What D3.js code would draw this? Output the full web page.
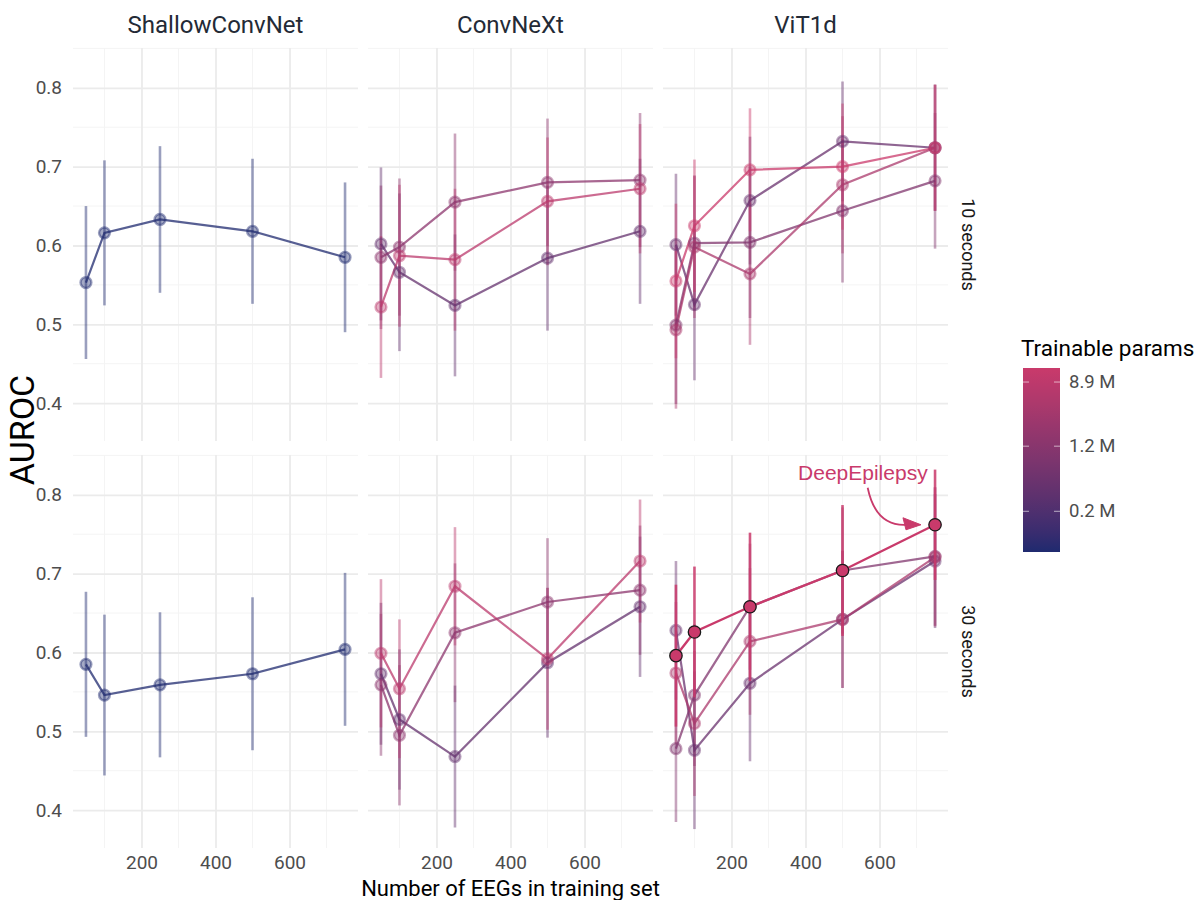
<!DOCTYPE html>
<html>
<head>
<meta charset="utf-8">
<script src="https://cdn.jsdelivr.net/npm/d3@7"></script>
<style>
  body { margin: 0; background: #fff; }
  svg { font-family: Roboto, "Liberation Sans", sans-serif; }
</style>
</head>
<body>
<svg id="chart" width="1202" height="900"></svg>
<script>
// ---- data -------------------------------------------------------------
const trainSizes = [50, 100, 250, 500, 750];
const models = ["ShallowConvNet", "ConvNeXt", "ViT1d"];
const windows = ["10 seconds", "30 seconds"];
const yTicks = [0.4, 0.5, 0.6, 0.7, 0.8];
const yMinor = [0.45, 0.55, 0.65, 0.75, 0.85];
const xTicks = [200, 400, 600];
const xMinor = [100, 300, 500, 700];
const legendBreaks = [1.57e5, 1.2e6, 8.9e6];

// trainable params per model size
const shallowParams = [4.4e4];
const convnextParams = [3.2e5, 1.4e6, 8.0e6];
const vitParams = [3.8e5, 9.0e5, 4.5e6, 1.38e7];

// mean AUROC and sd, one row per model size
const shallow10 = [[0.553, 0.616, 0.633, 0.618, 0.585]];
const shallow10Sd = [[0.097, 0.092, 0.093, 0.092, 0.095]];
const shallow30 = [[0.585, 0.546, 0.559, 0.573, 0.604]];
const shallow30Sd = [[0.092, 0.102, 0.092, 0.097, 0.097]];

const convnext10 = [
  [0.602, 0.566, 0.524, 0.584, 0.618],
  [0.585, 0.598, 0.655, 0.680, 0.683],
  [0.522, 0.587, 0.582, 0.656, 0.672]
];
const convnext10Sd = [
  [0.097, 0.100, 0.090, 0.092, 0.092],
  [0.091, 0.087, 0.087, 0.081, 0.085],
  [0.090, 0.090, 0.090, 0.081, 0.082]
];
const convnext30 = [
  [0.573, 0.515, 0.468, 0.587, 0.658],
  [0.559, 0.495, 0.625, 0.664, 0.679],
  [0.599, 0.554, 0.684, 0.592, 0.716]
];
const convnext30Sd = [
  [0.090, 0.089, 0.090, 0.095, 0.089],
  [0.090, 0.089, 0.088, 0.081, 0.082],
  [0.094, 0.088, 0.075, 0.090, 0.078]
];

const vit10 = [
  [0.601, 0.525, 0.657, 0.732, 0.724],
  [0.499, 0.603, 0.604, 0.644, 0.682],
  [0.493, 0.598, 0.564, 0.677, 0.724],
  [0.555, 0.625, 0.696, 0.700, 0.724]
];
const vit10Sd = [
  [0.090, 0.096, 0.081, 0.076, 0.080],
  [0.100, 0.086, 0.096, 0.091, 0.086],
  [0.100, 0.090, 0.090, 0.087, 0.080],
  [0.098, 0.084, 0.078, 0.080, 0.080]
];
const vit30 = [
  [0.628, 0.476, 0.561, 0.642, 0.716],
  [0.478, 0.546, 0.658, 0.704, 0.722],
  [0.574, 0.510, 0.614, 0.642, 0.721],
  [0.596, 0.626, 0.658, 0.704, 0.762]
];
const vit30Sd = [
  [0.088, 0.100, 0.099, 0.087, 0.085],
  [0.093, 0.090, 0.080, 0.080, 0.088],
  [0.090, 0.092, 0.093, 0.087, 0.088],
  [0.090, 0.083, 0.094, 0.083, 0.070]
];

// highlighted configuration
const highlight = { model: "ViT1d", window: "30 seconds", size: 3, label: "DeepEpilepsy" };
const annotationText = [555, 0.828];
const annotationArrow = [[568, 0.809], [712, 0.762]];

// ---- layout -----------------------------------------------------------
const svg = d3.select("#chart");
const plotLeft = 73, plotTop = 48;
const panelW = 285, panelH = 393, gapX = 10, gapY = 14;
const gridCol = "#ebebeb", minorCol = "#f4f4f4";

const x = d3.scaleLinear().domain([15, 785]).range([0, panelW]);
const y = d3.scaleLinear().domain([0.352, 0.8505]).range([panelH, 0]);
const color = d3.scaleLog()
  .domain([4.4e4, 1.38e7])
  .range(["#1f2a6f", "#c93a6b"])
  .interpolate(d3.interpolateLab);

const paramsByModel = { ShallowConvNet: shallowParams, ConvNeXt: convnextParams, ViT1d: vitParams };
const meansBy = {
  ShallowConvNet: [shallow10, shallow30],
  ConvNeXt: [convnext10, convnext30],
  ViT1d: [vit10, vit30]
};
const sdsBy = {
  ShallowConvNet: [shallow10Sd, shallow30Sd],
  ConvNeXt: [convnext10Sd, convnext30Sd],
  ViT1d: [vit10Sd, vit30Sd]
};

const line = d3.line().x(d => x(d.n)).y(d => y(d.m));

windows.forEach((win, r) => {
  models.forEach((model, c) => {
    const g = svg.append("g")
      .attr("transform", `translate(${plotLeft + c * (panelW + gapX)},${plotTop + r * (panelH + gapY)})`);

    // minor grid
    g.selectAll(".ymin").data(yMinor.filter(v => v <= y.domain()[1])).enter().append("line")
      .attr("x1", 0).attr("x2", panelW)
      .attr("y1", d => y(d)).attr("y2", d => y(d))
      .attr("stroke", minorCol).attr("stroke-width", 1);
    g.selectAll(".xmin").data(xMinor).enter().append("line")
      .attr("y1", 0).attr("y2", panelH)
      .attr("x1", d => x(d)).attr("x2", d => x(d))
      .attr("stroke", minorCol).attr("stroke-width", 1);

    // major grid via axes
    const ya = g.append("g").call(d3.axisLeft(y).tickValues(yTicks).tickSize(-panelW)
      .tickFormat(c === 0 ? d3.format(".1f") : ""));
    ya.select(".domain").remove();
    ya.selectAll("line").attr("stroke", gridCol).attr("stroke-width", 1.8);
    ya.selectAll("text").attr("x", -11).attr("fill", "#4d4d4d")
      .attr("font-size", 19).attr("font-family", "Roboto");

    const xa = g.append("g").attr("transform", `translate(0,${panelH})`)
      .call(d3.axisBottom(x).tickValues(xTicks).tickSize(-panelH)
        .tickFormat(r === windows.length - 1 ? d3.format("d") : ""));
    xa.select(".domain").remove();
    xa.selectAll("line").attr("stroke", gridCol).attr("stroke-width", 1.8);
    xa.selectAll("text").attr("y", 8).attr("dy", "0.71em").attr("fill", "#4d4d4d")
      .attr("font-size", 19).attr("font-family", "Roboto");

    // series
    const params = paramsByModel[model];
    const series = params.map((p, i) => ({
      params: p,
      idx: i,
      hl: highlight.model === model && highlight.window === win && highlight.size === i,
      pts: trainSizes.map((n, k) => ({ n, m: meansBy[model][r][i][k], s: sdsBy[model][r][i][k] }))
    }));
    const normal = series.filter(s => !s.hl);
    const hl = series.filter(s => s.hl);

    normal.forEach(s => {
      g.append("g").selectAll("line").data(s.pts).enter().append("line")
        .attr("x1", d => x(d.n)).attr("x2", d => x(d.n))
        .attr("y1", d => y(d.m - d.s)).attr("y2", d => y(d.m + d.s))
        .attr("stroke", color(s.params)).attr("stroke-opacity", 0.45).attr("stroke-width", 2.6);
    });
    normal.forEach(s => {
      g.append("path").datum(s.pts).attr("d", line)
        .attr("fill", "none").attr("stroke", color(s.params))
        .attr("stroke-opacity", 0.75).attr("stroke-width", 2.2);
    });
    normal.forEach(s => {
      g.append("g").selectAll("circle").data(s.pts).enter().append("circle")
        .attr("cx", d => x(d.n)).attr("cy", d => y(d.m)).attr("r", 5.4)
        .attr("fill", color(s.params)).attr("fill-opacity", 0.4)
        .attr("stroke", color(s.params)).attr("stroke-opacity", 0.45).attr("stroke-width", 2.4);
    });

    hl.forEach(s => {
      g.append("g").selectAll("line").data(s.pts).enter().append("line")
        .attr("x1", d => x(d.n)).attr("x2", d => x(d.n))
        .attr("y1", d => y(d.m - d.s)).attr("y2", d => y(d.m + d.s))
        .attr("stroke", color(s.params)).attr("stroke-opacity", 0.85).attr("stroke-width", 2.6);
      g.append("path").datum(s.pts).attr("d", line)
        .attr("fill", "none").attr("stroke", color(s.params)).attr("stroke-width", 2.4);
      g.append("g").selectAll("circle").data(s.pts).enter().append("circle")
        .attr("cx", d => x(d.n)).attr("cy", d => y(d.m)).attr("r", 6.2)
        .attr("fill", color(s.params))
        .attr("stroke", "#1a1a1a").attr("stroke-width", 1.3);

      // annotation
      const ac = color(s.params);
      g.append("text")
        .attr("x", x(annotationText[0])).attr("y", y(annotationText[1]))
        .attr("text-anchor", "middle").attr("dominant-baseline", "central")
        .attr("font-family", "Liberation Sans, Arial, sans-serif").attr("font-size", 21)
        .attr("fill", ac).text(highlight.label);
      const [a0, a1] = annotationArrow;
      const sx = x(a0[0]), sy = y(a0[1]), ex = x(a1[0]), ey = y(a1[1]);
      const hx = ex - 14;
      g.append("path")
        .attr("d", `M${sx},${sy} Q${sx + 8},${ey + 2} ${hx},${ey}`)
        .attr("fill", "none").attr("stroke", ac).attr("stroke-width", 1.8);
      g.append("path")
        .attr("d", `M${ex},${ey} L${hx - 4},${ey - 7} L${hx - 1},${ey + 5} Z`)
        .attr("fill", ac).attr("stroke", ac).attr("stroke-width", 1);
    });

    // column strip
    if (r === 0) {
      svg.append("text")
        .attr("x", plotLeft + c * (panelW + gapX) + panelW / 2).attr("y", plotTop - 15)
        .attr("text-anchor", "middle").attr("font-size", 24).attr("fill", "#232a36")
        .text(model);
    }
  });

  // row strip
  const cy = plotTop + r * (panelH + gapY) + panelH / 2;
  const sx = plotLeft + 3 * panelW + 2 * gapX + 20;
  svg.append("text")
    .attr("transform", `translate(${sx},${cy}) rotate(90)`)
    .attr("text-anchor", "middle").attr("dominant-baseline", "central")
    .attr("font-size", 18).attr("fill", "#1a1a1a")
    .text(win);
});

// axis titles
const plotRight = plotLeft + 3 * panelW + 2 * gapX;
svg.append("text")
  .attr("x", (plotLeft + plotRight) / 2).attr("y", 896)
  .attr("text-anchor", "middle").attr("font-size", 22).attr("fill", "#000")
  .text("Number of EEGs in training set");
svg.append("text")
  .attr("transform", `translate(34,430) rotate(-90)`)
  .attr("text-anchor", "middle").attr("font-size", 34).attr("fill", "#000")
  .text("AUROC");

// ---- legend -----------------------------------------------------------
const barX = 1023, barW = 37, barTop = 368, barBottom = 552;
const ly = d3.scaleLog().domain(color.domain()).range([barBottom, barTop]);
const grad = svg.append("defs").append("linearGradient")
  .attr("id", "pgrad").attr("x1", 0).attr("y1", 1).attr("x2", 0).attr("y2", 0);
d3.range(0, 1.0001, 0.1).forEach(t => {
  const v = Math.exp(Math.log(color.domain()[0]) + t * (Math.log(color.domain()[1]) - Math.log(color.domain()[0])));
  grad.append("stop").attr("offset", t).attr("stop-color", color(v));
});
svg.append("text").attr("x", 1021).attr("y", 356)
  .attr("font-size", 22.5).attr("fill", "#000").text("Trainable params");
svg.append("rect").attr("x", barX).attr("y", barTop)
  .attr("width", barW).attr("height", barBottom - barTop).attr("fill", "url(#pgrad)");
const lt = svg.append("g").selectAll("g").data(legendBreaks).enter().append("g");
lt.append("line").attr("x1", barX).attr("x2", barX + 6)
  .attr("y1", d => ly(d)).attr("y2", d => ly(d)).attr("stroke", "#fff").attr("stroke-opacity", 0.6);
lt.append("line").attr("x1", barX + barW - 6).attr("x2", barX + barW)
  .attr("y1", d => ly(d)).attr("y2", d => ly(d)).attr("stroke", "#fff").attr("stroke-opacity", 0.6);
lt.append("text").attr("x", 1069).attr("y", d => ly(d))
  .attr("dominant-baseline", "central").attr("font-size", 18.5).attr("fill", "#4d4d4d")
  .text(d => (d / 1e6).toFixed(1) + " M");
</script>
</body>
</html>
